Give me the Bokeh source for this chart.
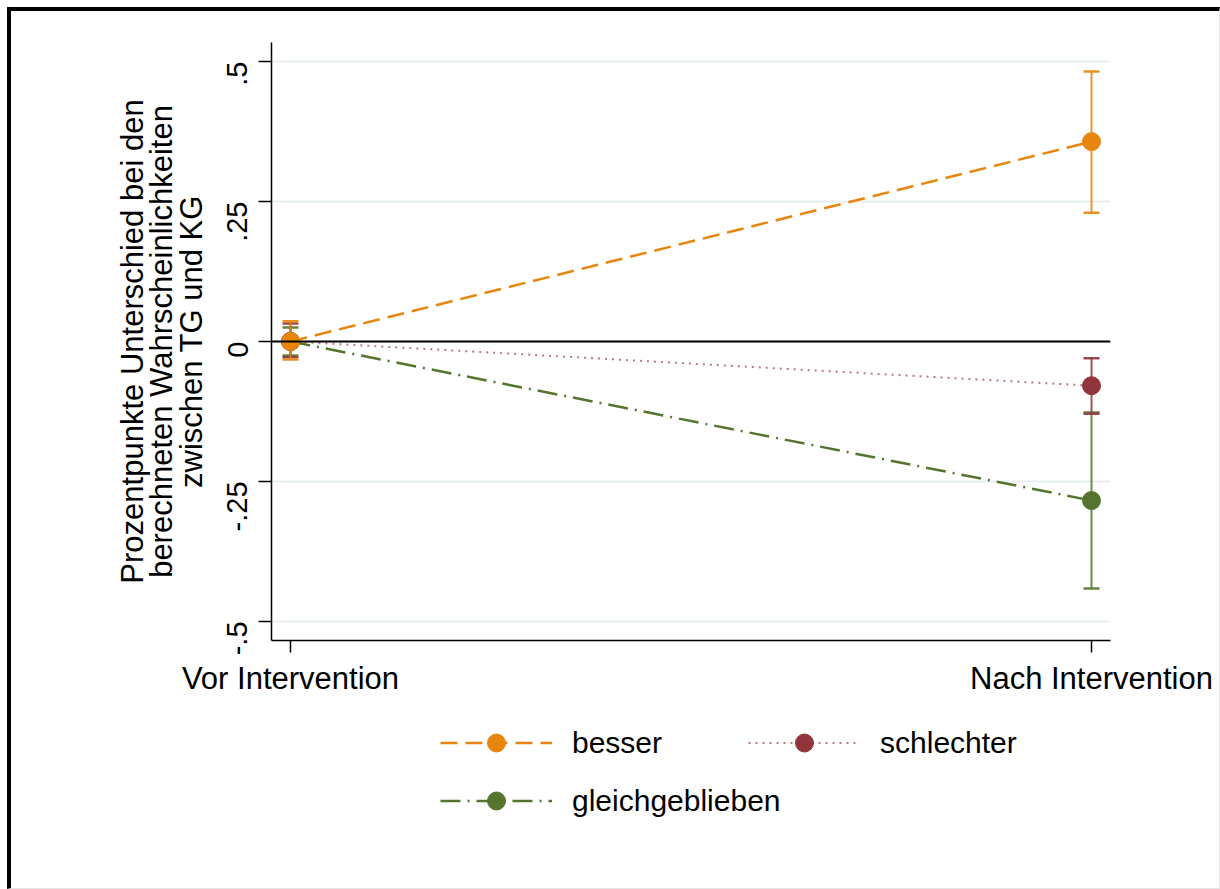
import math
from bokeh.plotting import figure
from bokeh.layouts import column
from bokeh.models import (ColumnDataSource, Range1d, FixedTicker, Span, Whisker,
                          TeeHead, Legend, LegendItem)
from bokeh.embed import file_html
from bokeh.resources import INLINE

# ---- data ----
timepoints = [0, 1]
time_labels = ["Vor Intervention", "Nach Intervention"]

besser = [0.0, 0.357]
besser_lo = [-0.032, 0.230]
besser_hi = [0.036, 0.482]

schlechter = [0.0, -0.079]
schlechter_lo = [-0.028, -0.129]
schlechter_hi = [0.032, -0.030]

gleich = [0.0, -0.284]
gleich_lo = [-0.025, -0.441]
gleich_hi = [0.025, -0.127]

y_ticks = [-0.5, -0.25, 0, 0.25, 0.5]
y_tick_labels = ["-.5", "-.25", "0", ".25", ".5"]

# ---- style ----
FONT = "Liberation Sans"
C_ORANGE = "#e8850c"
C_RED = "#90353b"
C_GREEN = "#55752f"

W = 1208
H_MAIN = 694
H_LEG = 183

p = figure(width=W, height=H_MAIN, output_backend="svg", toolbar_location=None,
           x_range=Range1d(-0.0237, 1.0237), y_range=Range1d(-0.534, 0.534),
           min_border_left=260, min_border_right=109, min_border_top=31,
           min_border_bottom=65)
p.outline_line_color = None
p.background_fill_color = "white"
p.border_fill_color = "white"

p.xgrid.grid_line_color = None
p.ygrid.grid_line_color = "#e8f0f1"
p.ygrid.grid_line_width = 2

# y axis
yax = p.yaxis[0]
yax.ticker = FixedTicker(ticks=y_ticks)
yax.major_label_overrides = {t: l for t, l in zip(y_ticks, y_tick_labels)}
yax.major_label_orientation = math.pi / 2
yax.major_tick_out = 13
yax.major_tick_in = 0
yax.minor_tick_line_color = None
yax.axis_line_color = "black"
yax.axis_line_width = 1.5
yax.major_tick_line_color = "black"
yax.major_tick_line_width = 1.5
yax.major_label_text_font = FONT
yax.major_label_text_font_size = "29px"
yax.major_label_text_color = "black"
yax.major_label_standoff = 21
yax.axis_label = ("Prozentpunkte Unterschied bei den\n"
                  "berechneten Wahrscheinlichkeiten\n"
                  "zwischen TG und KG")
yax.axis_label_text_font = FONT
yax.axis_label_text_font_size = "31px"
yax.axis_label_text_font_style = "normal"
yax.axis_label_text_color = "black"
yax.axis_label_text_line_height = 0.83
yax.axis_label_standoff = 6

# x axis
xax = p.xaxis[0]
xax.ticker = FixedTicker(ticks=timepoints)
xax.major_label_overrides = {t: l for t, l in zip(timepoints, time_labels)}
xax.major_tick_out = 12
xax.major_tick_in = 0
xax.minor_tick_line_color = None
xax.axis_line_color = "black"
xax.axis_line_width = 1.5
xax.major_tick_line_color = "black"
xax.major_tick_line_width = 1.5
xax.major_label_text_font = FONT
xax.major_label_text_font_size = "31px"
xax.major_label_text_color = "black"
xax.major_label_standoff = 8

# zero line
p.add_layout(Span(location=0, dimension="width", line_color="black", line_width=2))

specs = [
    ("gleichgeblieben", gleich, gleich_lo, gleich_hi, C_GREEN, "20 7 2 7", 1.0, 2.5),
    ("schlechter", schlechter, schlechter_lo, schlechter_hi, C_RED, "2 5", 0.65, 2.0),
    ("besser", besser, besser_lo, besser_hi, C_ORANGE, "17 8", 1.0, 2.5),
]

# legend figure below the chart; its ranges lie away from the data so only the
# legend is visible there
pl = figure(width=W, height=H_LEG, output_backend="svg", toolbar_location=None,
            x_range=Range1d(10, 11), y_range=Range1d(10, 11),
            x_axis_type=None, y_axis_type=None,
            min_border_left=0, min_border_right=0, min_border_top=0, min_border_bottom=0)
pl.outline_line_color = None
pl.grid.visible = False
pl.background_fill_color = "white"
pl.border_fill_color = "white"

legend_renderers = {}
for name, vals, lo, hi, col, dash, alpha, lw in specs:
    src = ColumnDataSource(dict(x=timepoints, y=vals, lower=lo, upper=hi))
    w = Whisker(base="x", lower="lower", upper="upper", source=src,
                line_color=col, line_width=2, line_alpha=0.85,
                upper_head=TeeHead(size=16, line_color=col, line_width=2.5, line_alpha=0.9),
                lower_head=TeeHead(size=16, line_color=col, line_width=2.5, line_alpha=0.9))
    p.add_layout(w)
    p.line("x", "y", source=src, line_color=col, line_width=lw,
           line_dash=dash, line_alpha=alpha)
    p.scatter("x", "y", source=src, marker="circle", size=18,
              fill_color=col, line_color=col)
    lr = pl.line("x", "y", source=src, line_color=col, line_width=lw,
                 line_dash=dash, line_alpha=alpha)
    sr = pl.scatter("x", "y", source=src, marker="circle", size=18,
                    fill_color=col, line_color=col)
    legend_renderers[name] = [lr, sr]

legend_common = dict(
    border_line_color=None, background_fill_alpha=0, padding=0, margin=0,
    glyph_width=112, glyph_height=45, label_height=45, label_standoff=20,
    label_text_font=FONT, label_text_font_size="30px", label_text_color="black",
)

leg1 = Legend(items=[LegendItem(label="besser", renderers=legend_renderers["besser"]),
                     LegendItem(label="schlechter", renderers=legend_renderers["schlechter"])],
              orientation="horizontal", spacing=86, location=(169, 123),
              **legend_common)
leg2 = Legend(items=[LegendItem(label="gleichgeblieben",
                                renderers=legend_renderers["gleichgeblieben"])],
              orientation="horizontal", location=(169, 65), **legend_common)
pl.add_layout(leg1, "center")
pl.add_layout(leg2, "center")

layout = column(p, pl, spacing=0,
                styles={"margin-left": "7px", "margin-top": "7px",
                        "border-left": "4px solid black", "border-top": "4px solid black",
                        "border-right": "1px solid #e6e6e6",
                        "border-bottom": "1px solid #e6e6e6",
                        "background-color": "white"})

open("out.html", "w").write(file_html(layout, INLINE))
